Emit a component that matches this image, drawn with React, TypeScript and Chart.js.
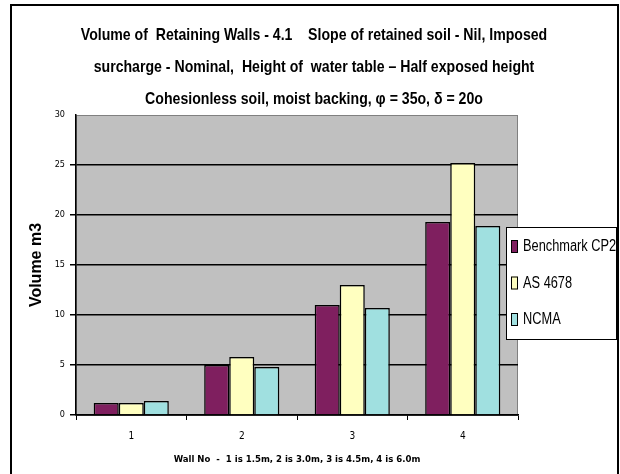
import React, { useEffect, useRef } from "react";
import { Chart, registerables } from "chart.js";

Chart.register(...registerables);

const categories = ["1", "2", "3", "4"];
const benchmarkCP2 = [1.2, 5.0, 11.0, 19.3];
const as4678 = [1.2, 5.8, 13.0, 25.2];
const ncma = [1.4, 4.8, 10.7, 18.9];
const seriesNames = ["Benchmark CP2", "AS 4678", "NCMA"];
const seriesColors = ["#7F1F5F", "#FFFFC0", "#A0E0E0"];
const titleLines = [
  "Volume of  Retaining Walls - 4.1    Slope of retained soil - Nil, Imposed",
  "surcharge - Nominal,  Height of  water table \u2013 Half exposed height",
  "Cohesionless soil, moist backing, \u03c6 = 35o, \u03b4 = 20o",
];
const yAxisTitle = "Volume m3";
const xAxisTitle = "Wall No  -  1 is 1.5m, 2 is 3.0m, 3 is 4.5m, 4 is 6.0m";
const yMin = 0;
const yMax = 30;
const yStep = 5;

const SANS = "'Liberation Sans', Arial, sans-serif";
const CONDENSED = "'DejaVu Sans Condensed', 'Liberation Sans', sans-serif";

// draws text squeezed horizontally to get a narrow face
function narrowText(ctx: CanvasRenderingContext2D, text: string, x: number, y: number, squeeze: number) {
  ctx.save();
  ctx.translate(x, y);
  ctx.scale(squeeze, 1);
  ctx.fillText(text, 0, 0);
  ctx.restore();
}

// frame, plot background, title and legend
const decorPlugin = {
  id: "decor",
  beforeDraw(chart: any) {
    const { ctx, chartArea } = chart;
    ctx.save();
    ctx.fillStyle = "#ffffff";
    ctx.fillRect(0, 0, chart.width, chart.height);
    ctx.strokeStyle = "#000000";
    ctx.lineWidth = 2;
    ctx.strokeRect(11, 5, 607, 480);
    ctx.fillStyle = "#C0C0C0";
    ctx.fillRect(chartArea.left, chartArea.top, chartArea.right - chartArea.left, chartArea.bottom - chartArea.top);
    ctx.strokeStyle = "#808080";
    ctx.lineWidth = 1;
    ctx.strokeRect(chartArea.left + 0.5, chartArea.top + 0.5, chartArea.right - chartArea.left - 1, chartArea.bottom - chartArea.top);

    // title
    ctx.fillStyle = "#000000";
    ctx.font = `bold 17px ${SANS}`;
    ctx.textAlign = "center";
    ctx.textBaseline = "middle";
    titleLines.forEach((line, i) => {
      narrowText(ctx, line, 314, 35 + i * 32, 0.83);
    });
    ctx.restore();
  },
  afterDraw(chart: any) {
    const { ctx } = chart;
    ctx.save();
    const lx = 506, ly = 227, lw = 111, lh = 113;
    ctx.fillStyle = "#ffffff";
    ctx.fillRect(lx, ly, lw, lh);
    ctx.strokeStyle = "#000000";
    ctx.lineWidth = 1;
    ctx.strokeRect(lx + 0.5, ly + 0.5, lw - 1, lh - 1);
    ctx.font = `16px ${SANS}`;
    ctx.textAlign = "left";
    ctx.textBaseline = "middle";
    seriesNames.forEach((name, i) => {
      const cy = 246 + i * 36.5;
      ctx.fillStyle = seriesColors[i];
      ctx.fillRect(511, cy - 6, 7, 13);
      ctx.strokeStyle = "#000000";
      ctx.strokeRect(511.5, cy - 5.5, 6, 12);
      ctx.fillStyle = "#000000";
      narrowText(ctx, name, 523, cy + 1, 0.8);
    });
    ctx.restore();
  },
};

export default function App() {
  const canvasRef = useRef<HTMLCanvasElement | null>(null);

  useEffect(() => {
    if (!canvasRef.current) return;
    const datasets = [benchmarkCP2, as4678, ncma].map((data, i) => ({
      label: seriesNames[i],
      data,
      backgroundColor: seriesColors[i],
      borderColor: "#000000",
      borderWidth: 1.5,
      barPercentage: 1,
      categoryPercentage: 0.68,
    }));
    const chart = new Chart(canvasRef.current, {
      type: "bar",
      data: { labels: categories, datasets },
      plugins: [decorPlugin],
      options: {
        responsive: false,
        animation: false,
        devicePixelRatio: 1,
        layout: { padding: { left: 10, right: 102, top: 115, bottom: 9 } },
        plugins: {
          legend: { display: false },
          title: { display: false },
          tooltip: { enabled: false },
        },
        scales: {
          x: {
            grid: {
              offset: true,
              drawOnChartArea: false,
              drawTicks: true,
              tickLength: 5,
              color: "#000000",
              lineWidth: 1,
            },
            border: { display: true, color: "#000000", width: 1.5 },
            ticks: {
              color: "#000000",
              font: { family: CONDENSED, size: 10 },
              padding: 10,
            },
            title: {
              display: true,
              text: xAxisTitle,
              color: "#000000",
              font: { family: CONDENSED, size: 9.5, weight: "bold" },
              padding: { top: 0, bottom: 0 },
            },
            afterFit(scale: any) {
              scale.height = 50;
            },
          },
          y: {
            min: yMin,
            max: yMax,
            ticks: {
              stepSize: yStep,
              color: "#000000",
              font: { family: CONDENSED, size: 9 },
              padding: 5,
            },
            grid: {
              color: (c: any) => (c.tick && c.tick.value === yMax ? "rgba(0,0,0,0)" : "#000000"),
              lineWidth: 1.5,
              tickLength: 6,
              drawTicks: true,
            },
            border: { display: true, color: "#000000", width: 1.5 },
            title: {
              display: true,
              text: yAxisTitle,
              color: "#000000",
              font: { family: SANS, size: 16, weight: "bold" },
              padding: { top: 17, bottom: 0 },
            },
            afterFit(scale: any) {
              scale.width = 66;
            },
          },
        },
      },
    });
    return () => chart.destroy();
  }, []);

  return (
    <div style={{ position: "absolute", left: 0, top: 0, width: 620, height: 474 }}>
      <canvas ref={canvasRef} width={620} height={474} />
    </div>
  );
}
